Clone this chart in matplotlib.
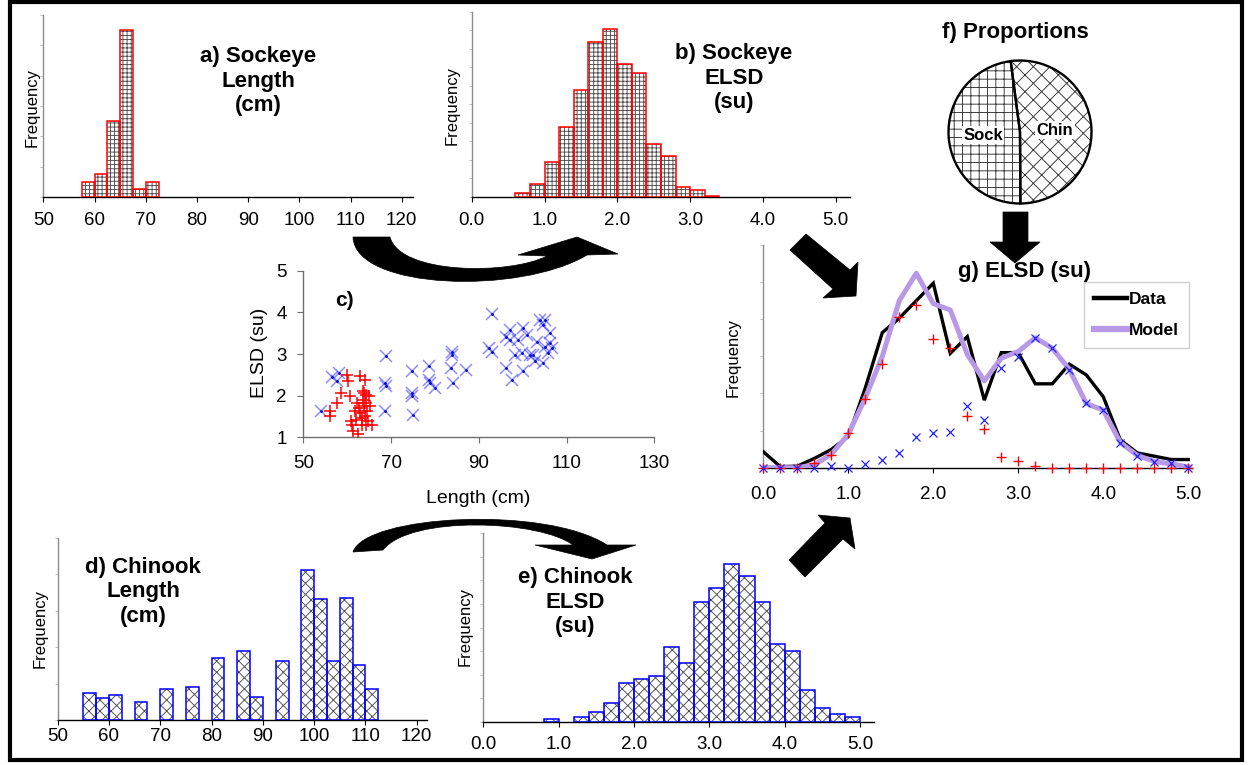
import matplotlib
matplotlib.use("Agg")
import matplotlib.pyplot as plt
from matplotlib.path import Path
from matplotlib.patches import PathPatch, Polygon, Rectangle
from matplotlib.lines import Line2D

plt.rcParams['font.family'] = ['Liberation Sans', 'DejaVu Sans']
plt.rcParams['hatch.linewidth'] = 0.65

# ---------------- data ----------------
# a) Sockeye length histogram (bin left edges, cm) and counts
sock_len_left = [57.5, 60.0, 62.5, 65.0, 67.5, 70.0]
sock_len_freq = [2, 3, 10, 22, 1, 2]

# b) Sockeye ELSD histogram
sock_elsd_left = [0.6, 0.8, 1.0, 1.2, 1.4, 1.6, 1.8, 2.0, 2.2, 2.4, 2.6, 2.8, 3.0, 3.2]
sock_elsd_freq = [0.22, 0.70, 1.87, 3.79, 5.78, 8.37, 9.05, 7.20, 6.70, 2.85, 2.19, 0.54, 0.36, 0.07]

# d) Chinook length histogram
chin_len_left = [55.0, 57.5, 60.0, 65.0, 70.0, 75.0, 80.0, 85.0, 87.5, 92.5,
                 97.5, 100.0, 102.5, 105.0, 107.5, 110.0]
chin_len_freq = [0.75, 0.60, 0.69, 0.49, 0.84, 0.90, 1.70, 1.90, 0.64, 1.63,
                 4.13, 3.32, 1.63, 3.35, 1.50, 0.84]

# e) Chinook ELSD histogram
chin_elsd_left = [0.8, 1.2, 1.4, 1.6, 1.8, 2.0, 2.2, 2.4, 2.6, 2.8, 3.0, 3.2, 3.4,
                  3.6, 3.8, 4.0, 4.2, 4.4, 4.6, 4.8]
chin_elsd_freq = [0.10, 0.21, 0.40, 0.79, 1.63, 1.81, 1.93, 3.19, 2.49, 5.10, 5.67,
                  6.71, 6.20, 5.10, 3.29, 2.99, 1.33, 0.59, 0.31, 0.20]

# c) length vs ELSD
sock_len = [56.1, 56.1, 57.6, 58.7, 60.0, 60.2, 60.6, 60.8, 61.2, 61.4, 61.8, 62.5,
            62.3, 62.9, 63.3, 63.3, 63.5, 63.7, 63.8, 64.1, 64.1, 64.3, 64.4, 64.4,
            64.6, 64.8, 65.0, 65.2, 62.1, 63.0, 65.6, 63.9, 62.8]
sock_elsd = [1.51, 1.64, 1.82, 2.06, 2.50, 2.34, 1.98, 1.38, 1.30, 1.14, 1.62, 1.08,
             1.82, 2.46, 1.46, 1.30, 1.90, 2.10, 1.74, 2.38, 1.50, 1.30, 2.02, 1.82,
             1.62, 1.38, 1.98, 1.74, 1.42, 1.58, 1.30, 2.06, 1.70]
chin_len = [54.0, 56.5, 58.2, 57.7, 68.8, 68.6, 68.8, 68.6, 74.7, 74.7, 74.7, 74.9,
            78.7, 78.7, 78.9, 80.0, 83.6, 84.0, 83.8, 84.2, 87.1, 92.9, 92.4, 92.9,
            97.1, 97.1, 96.3, 97.5, 98.2, 99.0, 100.1, 100.1, 100.9, 99.8, 102.4,
            103.2, 102.8, 103.9, 105.1, 104.7, 105.1, 105.8, 106.2, 106.2, 106.6,
            104.7, 101.6, 96.3]
chin_elsd = [1.64, 2.44, 2.55, 2.34, 2.95, 2.30, 2.22, 1.64, 2.60, 2.06, 1.98, 1.54,
             2.70, 2.38, 2.30, 2.18, 2.66, 3.06, 2.98, 2.30, 2.62, 3.96, 3.14, 3.06,
             3.58, 3.34, 2.66, 2.38, 2.98, 3.34, 3.62, 2.58, 3.46, 3.02, 2.98,
             3.30, 2.82, 3.82, 3.82, 3.70, 3.18, 3.02, 3.50, 3.26, 3.14,
             2.78, 2.98, 3.42]

# f) stock proportions
prop_labels = ['Sock', 'Chin']
prop_values = [0.48, 0.52]

# g) mixture ELSD distribution
elsd_grid = [0.0, 0.2, 0.4, 0.6, 0.8, 1.0, 1.2, 1.4, 1.6, 1.8, 2.0, 2.2, 2.4,
             2.6, 2.8, 3.0, 3.2, 3.4, 3.6, 3.8, 4.0, 4.2, 4.4, 4.6, 4.8, 5.0]
data_freq = [0.43, 0.03, 0.04, 0.25, 0.49, 0.84, 2.15, 3.64, 4.03, 4.50, 4.97, 3.08,
             3.53, 1.82, 3.10, 3.10, 2.26, 2.26, 2.79, 2.50, 1.91, 0.75, 0.40, 0.31,
             0.22, 0.22]
model_freq = [0.0, 0.0, 0.0, 0.08, 0.36, 0.90, 1.88, 3.00, 4.50, 5.24, 4.42, 4.25,
              3.05, 2.34, 2.95, 3.13, 3.50, 3.22, 2.65, 1.73, 1.55, 0.68, 0.33, 0.17,
              0.10, 0.02]
sock_comp = [0, 0, 0, 0.12, 0.34, 0.93, 1.84, 2.79, 4.05, 4.38, 3.46, 3.22, 1.39,
             1.04, 0.28, 0.19, 0.04, 0, 0, 0, 0, 0, 0, 0, 0, 0]
chin_comp = [0, 0, 0, 0, 0.05, 0, 0.10, 0.22, 0.40, 0.82, 0.93, 0.97, 1.67, 1.28,
             2.68, 2.97, 3.49, 3.22, 2.63, 1.73, 1.55, 0.67, 0.31, 0.16, 0.12, 0]

len_ticks = [50, 60, 70, 80, 90, 100, 110, 120]
elsd_ticks = [0.0, 1.0, 2.0, 3.0, 4.0, 5.0]

# ---------------- figure ----------------
W, H = 1252, 765
fig = plt.figure(figsize=(W / 100, H / 100), dpi=100)
fig.patch.set_facecolor('white')

TICK_FS = 13.5
SOCK_EDGE = '#ff0000'
CHIN_EDGE = '#0000ff'
HATCH_COL = '#4d4d4d'


def px_axes(x0, x1, y_top, y_bot):
    return fig.add_axes([x0 / W, 1 - y_bot / H, (x1 - x0) / W, (y_bot - y_top) / H])


def style_hist(ax, xlim, ylim, xticks, xlabels, yticks, pad):
    ax.set_xlim(*xlim)
    ax.set_ylim(*ylim)
    ax.patch.set_alpha(0)
    for s in ('top', 'right'):
        ax.spines[s].set_visible(False)
    ax.spines['bottom'].set_color('black')
    ax.spines['bottom'].set_linewidth(1.0)
    ax.spines['left'].set_color('#8c8c8c')
    ax.spines['left'].set_linewidth(1.0)
    ax.set_xticks(xticks)
    ax.set_xticklabels(xlabels)
    ax.set_yticks(yticks)
    ax.set_yticklabels([])
    ax.tick_params(axis='x', length=3.5, width=0.8, color='black', pad=pad,
                   labelsize=TICK_FS)
    ax.tick_params(axis='y', length=2.5, width=0.6, color='#b5b5b5')


def hatched_bars(ax, left, heights, width, hatch, edge):
    ax.bar(left, heights, width=width, align='edge', color='white',
           edgecolor=HATCH_COL, hatch=hatch, linewidth=0, zorder=2)
    ax.bar(left, heights, width=width, align='edge', fill=False,
           edgecolor=edge, linewidth=1.1, zorder=3)


# a) Sockeye length
ax_a = px_axes(43.3, 413, 15, 197)
hatched_bars(ax_a, sock_len_left, sock_len_freq, 2.5, '++++', SOCK_EDGE)
style_hist(ax_a, (50, 122.2), (0, 24), len_ticks, [str(t) for t in len_ticks],
           range(0, 25, 4), 7)

# b) Sockeye ELSD
ax_b = px_axes(471.7, 850, 11.7, 197)
hatched_bars(ax_b, sock_elsd_left, sock_elsd_freq, 0.2, '++++', SOCK_EDGE)
style_hist(ax_b, (0, 5.196), (0, 10), elsd_ticks, [f'{t:.1f}' for t in elsd_ticks],
           range(0, 11), 7)

# d) Chinook length
ax_d = px_axes(57.7, 427, 538, 720)
hatched_bars(ax_d, chin_len_left, chin_len_freq, 2.5, 'xxx', CHIN_EDGE)
style_hist(ax_d, (50, 122), (0, 5), len_ticks, [str(t) for t in len_ticks],
           range(0, 6), 2.5)

# e) Chinook ELSD
ax_e = px_axes(483.3, 874, 533.3, 721.7)
hatched_bars(ax_e, chin_elsd_left, chin_elsd_freq, 0.2, 'xxx', CHIN_EDGE)
style_hist(ax_e, (0, 5.185), (0, 8), elsd_ticks, [f'{t:.1f}' for t in elsd_ticks],
           range(0, 9), 7)

# c) scatter of ELSD against length
ax_c = px_axes(303.3, 654.3, 270.7, 437.3)
ax_c.plot(chin_len, chin_elsd, linestyle='none', marker='x', ms=9, mew=1.1,
          color='#2f2fff', alpha=0.55, zorder=2)
ax_c.plot(chin_len, chin_elsd, linestyle='none', marker='.', ms=2.0,
          color='#0000cc', zorder=3)
ax_c.plot(sock_len, sock_elsd, linestyle='none', marker='+', ms=9, mew=1.1,
          color='#ff0000', zorder=4)
ax_c.set_xlim(50, 130)
ax_c.set_ylim(1, 5)
ax_c.patch.set_alpha(0)
for s in ('top', 'right'):
    ax_c.spines[s].set_visible(False)
for s in ('left', 'bottom'):
    ax_c.spines[s].set_color('#6e6e6e')
    ax_c.spines[s].set_linewidth(1.0)
ax_c.set_xticks([50, 70, 90, 110, 130])
ax_c.set_yticks([1, 2, 3, 4, 5])
ax_c.tick_params(axis='x', length=4, width=0.8, color='#6e6e6e', pad=9,
                 labelsize=TICK_FS)
ax_c.tick_params(axis='y', length=4, width=0.8, color='#6e6e6e', pad=8,
                 labelsize=TICK_FS)

# g) observed vs modelled mixture
ax_g = px_axes(763.3, 1191.7, 245, 467.7)
ax_g.plot(elsd_grid, data_freq, color='black', lw=2.4, zorder=3,
          solid_joinstyle='miter')
ax_g.plot(elsd_grid, model_freq, color='#b899e8', lw=3.6, zorder=4)
ax_g.plot(elsd_grid, sock_comp, linestyle='none', marker='+', ms=6.5, mew=1.0,
          color='#ff0000', zorder=5, clip_on=False)
ax_g.plot(elsd_grid, chin_comp, linestyle='none', marker='x', ms=5.5, mew=0.9,
          color='#2222ff', zorder=5, clip_on=False)
style_hist(ax_g, (0, 5.04), (0, 6), elsd_ticks, [f'{t:.1f}' for t in elsd_ticks],
           range(0, 7), 9.5)
leg_handles = [Line2D([], [], color='black', lw=3.2),
               Line2D([], [], color='#b899e8', lw=4.5)]
ax_g.legend(leg_handles, ['Data', 'Model'], loc='upper left',
            bbox_to_anchor=(1084 / W, 1 - 282 / H), bbox_transform=fig.transFigure,
            frameon=True, fancybox=False, edgecolor='#d0d0d0', framealpha=1,
            prop={'weight': 'bold', 'size': 12.5}, handlelength=1.9,
            handletextpad=0.15, borderpad=0.55, labelspacing=0.95, borderaxespad=0)

# f) proportions pie
pcx, pcy, pr = 1020, 132, 71.5
ax_f = px_axes(pcx - 76, pcx + 76, pcy - 76, pcy + 76)
wedges, _ = ax_f.pie(prop_values, startangle=97.5, counterclock=True,
                     colors=['white', 'white'], hatch=['++', 'xx'],
                     wedgeprops={'edgecolor': '#333333', 'linewidth': 0})
ax_f.pie(prop_values, startangle=97.5, counterclock=True,
         wedgeprops={'edgecolor': 'black', 'linewidth': 1.7, 'fill': False})
ax_f.set_xlim(-76 / pr, 76 / pr)
ax_f.set_ylim(-76 / pr, 76 / pr)
ax_f.set_aspect('auto')

# ---------------- overlay: text, arrows, frame ----------------
ov = fig.add_axes([0, 0, 1, 1])
ov.set_xlim(0, W)
ov.set_ylim(H, 0)
ov.axis('off')
ov.patch.set_alpha(0)
ov.set_zorder(10)

ov.text(983, 135, prop_labels[0], ha='center', va='center', fontsize=12,
        fontweight='bold', bbox=dict(facecolor='white', edgecolor='none', pad=1.2))
ov.text(1055, 130, prop_labels[1], ha='center', va='center', fontsize=12,
        fontweight='bold', bbox=dict(facecolor='white', edgecolor='none', pad=1.2))

TITLE_KW = dict(ha='center', va='center', fontsize=16, fontweight='bold',
                multialignment='center', linespacing=1.22)
ov.text(258, 81, 'a) Sockeye\nLength\n(cm)', **TITLE_KW)
ov.text(734, 78, 'b) Sockeye\nELSD\n(su)', **TITLE_KW)
ov.text(143, 592, 'd) Chinook\nLength\n(cm)', **TITLE_KW)
ov.text(575, 602, 'e) Chinook\nELSD\n(su)', **TITLE_KW)
ov.text(1015, 32, 'f) Proportions', ha='center', va='center', fontsize=16,
        fontweight='bold')
ov.text(1024, 271, 'g) ELSD (su)', ha='center', va='center', fontsize=16,
        fontweight='bold')
ov.text(344, 300, 'c)', ha='center', va='center', fontsize=15, fontweight='bold')

FREQ_KW = dict(rotation=90, ha='center', va='center', fontsize=12)
ov.text(32, 107, 'Frequency', **FREQ_KW)
ov.text(452, 105, 'Frequency', **FREQ_KW)
ov.text(40, 628, 'Frequency', **FREQ_KW)
ov.text(465, 627, 'Frequency', **FREQ_KW)
ov.text(733, 357, 'Frequency', **FREQ_KW)

ov.text(259, 353, 'ELSD (su)', rotation=90, ha='center', va='center', fontsize=14)
ov.text(478, 498, 'Length (cm)', ha='center', va='center', fontsize=14)

# curved arrow from the top row into the scatter row
top_arrow = Path(
    [(353, 237), (355, 290), (520, 295), (587, 255),
     (618, 254), (577, 237), (518, 255), (547, 256),
     (510, 275), (400, 275), (390, 237), (353, 237)],
    [Path.MOVETO, Path.CURVE4, Path.CURVE4, Path.CURVE4,
     Path.LINETO, Path.LINETO, Path.LINETO, Path.LINETO,
     Path.CURVE4, Path.CURVE4, Path.CURVE4, Path.CLOSEPOLY])
ov.add_patch(PathPatch(top_arrow, facecolor='black', edgecolor='black', lw=0.5))

# curved arrow across the bottom row
bottom_arrow = Path(
    [(353, 552), (365, 515), (545, 505), (607, 545),
     (636, 545), (592, 559), (535, 545), (573, 545),
     (540, 520), (410, 515), (383, 550), (353, 552)],
    [Path.MOVETO, Path.CURVE4, Path.CURVE4, Path.CURVE4,
     Path.LINETO, Path.LINETO, Path.LINETO, Path.LINETO,
     Path.CURVE4, Path.CURVE4, Path.CURVE4, Path.CLOSEPOLY])
ov.add_patch(PathPatch(bottom_arrow, facecolor='black', edgecolor='black', lw=0.5))

# straight block arrows pointing into panel g
ov.add_patch(Polygon([(806, 234), (850, 270), (858, 262), (856, 296), (823, 298),
                      (833, 289), (790, 250)], closed=True, facecolor='black',
                     edgecolor='black', lw=0.5))
ov.add_patch(Polygon([(789, 560), (825, 523), (818, 515), (850, 518), (855, 549),
                      (843, 539), (805, 577)], closed=True, facecolor='black',
                     edgecolor='black', lw=0.5))
ov.add_patch(Polygon([(1003, 212), (1028, 212), (1028, 242), (1040, 242),
                      (1015, 263), (990, 242), (1003, 242)], closed=True,
                     facecolor='black', edgecolor='black', lw=0.5))

# outer frame
ov.add_patch(Rectangle((9.5, 1.8), 1232, 758.5, fill=False, edgecolor='black',
                       lw=3.0))

fig.savefig('out.png', dpi=100, facecolor='white')
